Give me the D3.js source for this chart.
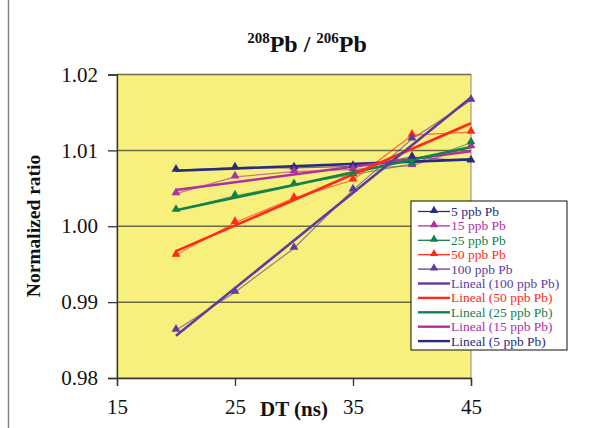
<!DOCTYPE html>
<html>
<head>
<meta charset="utf-8">
<script src="https://cdn.jsdelivr.net/npm/d3@7"></script>
<style>
  body { margin: 0; background: #fff; }
  svg { display: block; }
  svg text { font-family: "Liberation Serif", "Times New Roman", serif; }
</style>
</head>
<body>
<svg id="chart" width="606" height="428"></svg>
<script>
// DT values (ns)
const dtValues = [20, 25, 30, 35, 40, 45]

// normalized 208Pb/206Pb ratio per concentration
const ppb5 = [1.0074, 1.0077, 1.0077, 1.0079, 1.0091, 1.0086]
const ppb15 = [1.0043, 1.0065, 1.0072, 1.0075, 1.0080, 1.0105]
const ppb25 = [1.0021, 1.0040, 1.0055, 1.0068, 1.0082, 1.0110]
const ppb50 = [0.9962, 1.0005, 1.0037, 1.0061, 1.0120, 1.0124]
const ppb100 = [0.9863, 0.9913, 0.9971, 1.0048, 1.0115, 1.0166]

const xTicks = [15, 25, 35, 45]
const yTicks = [0.98, 0.99, 1.00, 1.01, 1.02]

const series = [
  { name: "5 ppb Pb", values: ppb5, color: "#2a2a80" },
  { name: "15 ppb Pb", values: ppb15, color: "#b0309f" },
  { name: "25 ppb Pb", values: ppb25, color: "#16804a" },
  { name: "50 ppb Pb", values: ppb50, color: "#ff2a1a" },
  { name: "100 ppb Pb", values: ppb100, color: "#5e3c9e" }
]

const svg = d3.select("#chart")

const x = d3.scaleLinear().domain([15, 45]).range([117, 471])
const y = d3.scaleLinear().domain([0.98, 1.02]).range([378, 74.5])

// chart area border (left edge visible)
svg.append("line")
  .attr("x1", 8.5).attr("x2", 8.5)
  .attr("y1", 0).attr("y2", 428)
  .attr("stroke", "#808080").attr("stroke-width", 1.5)

// plot area
svg.append("rect")
  .attr("x", x(15)).attr("y", y(1.02))
  .attr("width", x(45) - x(15)).attr("height", y(0.98) - y(1.02))
  .attr("fill", "#f7f07d")
  .attr("stroke", "#8a8a8a").attr("stroke-width", 1)

// gridlines
svg.append("g")
  .selectAll("line")
  .data(yTicks.slice(1))
  .enter()
  .append("line")
  .attr("x1", x(15)).attr("x2", x(45))
  .attr("y1", d => y(d)).attr("y2", d => y(d))
  .attr("stroke", "#6b6b45").attr("stroke-width", 1.5)

// axes
const yAxis = svg.append("g")
  .attr("transform", "translate(" + x(15) + ",0)")
  .call(d3.axisLeft(y).tickValues(yTicks).tickFormat(d3.format(".2f")).tickSize(9).tickPadding(10))
const xAxis = svg.append("g")
  .attr("transform", "translate(0," + y(0.98) + ")")
  .call(d3.axisBottom(x).tickValues(xTicks).tickSize(8).tickPadding(13))

for (const ax of [xAxis, yAxis]) {
  ax.select(".domain").attr("stroke", "#333").attr("stroke-width", 1.3)
  ax.selectAll(".tick line").attr("stroke", "#333").attr("stroke-width", 1.3)
  ax.selectAll("text")
    .attr("fill", "#111")
    .style("font-family", '"Liberation Serif", serif')
    .style("font-size", "21px")
}

// linear trend from least squares
function fit(vals) {
  const mx = d3.mean(dtValues), my = d3.mean(vals)
  const sxy = d3.sum(dtValues, (d, i) => (d - mx) * (vals[i] - my))
  const sxx = d3.sum(dtValues, d => (d - mx) * (d - mx))
  const b = sxy / sxx
  return t => my + b * (t - mx)
}

const line = d3.line()
  .x((d, i) => x(dtValues[i]))
  .y(d => y(d))

// measured series (thin)
svg.append("g")
  .selectAll("path")
  .data(series)
  .enter()
  .append("path")
  .attr("d", d => line(d.values))
  .attr("fill", "none")
  .attr("stroke", d => d.color)
  .attr("stroke-opacity", 0.65)
  .attr("stroke-width", 1.2)

// trend lines (thick)
svg.append("g")
  .selectAll("line")
  .data(series)
  .enter()
  .append("line")
  .each(function(d) {
    const f = fit(d.values)
    d3.select(this)
      .attr("x1", x(dtValues[0])).attr("y1", y(f(dtValues[0])))
      .attr("x2", x(dtValues[dtValues.length - 1])).attr("y2", y(f(dtValues[dtValues.length - 1])))
  })
  .attr("stroke", d => d.color)
  .attr("stroke-width", 2.6)

// markers
const tri = d3.symbol(d3.symbolTriangle, 34)
series.forEach(s => {
  svg.append("g")
    .selectAll("path")
    .data(s.values)
    .enter()
    .append("path")
    .attr("d", tri)
    .attr("transform", (d, i) => "translate(" + x(dtValues[i]) + "," + (y(d) - 1) + ")")
    .attr("fill", s.color)
})

// titles
const title = svg.append("text")
  .attr("x", 307).attr("y", 52)
  .attr("text-anchor", "middle")
  .attr("font-weight", "bold")
  .attr("font-size", "24px")
  .attr("fill", "#111")
title.append("tspan").attr("font-size", "15px").attr("dy", "-9").text("208")
title.append("tspan").attr("dy", "9").text("Pb / ")
title.append("tspan").attr("font-size", "15px").attr("dy", "-9").text("206")
title.append("tspan").attr("dy", "9").text("Pb")

svg.append("text")
  .attr("x", 294).attr("y", 416)
  .attr("text-anchor", "middle")
  .attr("font-weight", "bold")
  .attr("font-size", "21px")
  .attr("fill", "#111")
  .text("DT (ns)")

svg.append("text")
  .attr("transform", "translate(40,226) rotate(-90)")
  .attr("text-anchor", "middle")
  .attr("font-weight", "bold")
  .attr("font-size", "19.5px")
  .attr("fill", "#111")
  .text("Normalized ratio")

// legend
const legendItems = series.map(s => ({ label: s.name, color: s.color, marker: true }))
  .concat(series.slice().reverse().map(s => ({ label: "Lineal (" + s.name + ")", color: s.color, marker: false })))

const legend = svg.append("g").attr("transform", "translate(411,201)")
legend.append("rect")
  .attr("width", 156).attr("height", 149)
  .attr("fill", "#fff").attr("stroke", "#111").attr("stroke-width", 1)

const rows = legend.selectAll("g.item")
  .data(legendItems)
  .enter()
  .append("g")
  .attr("class", "item")
  .attr("transform", (d, i) => "translate(0," + (10.5 + i * 14.4) + ")")

rows.append("line")
  .attr("x1", 7).attr("x2", 39)
  .attr("y1", 0).attr("y2", 0)
  .attr("stroke", d => d.color)
  .attr("stroke-width", d => d.marker ? 1.3 : 2.4)

rows.filter(d => d.marker)
  .append("path")
  .attr("d", d3.symbol(d3.symbolTriangle, 30))
  .attr("transform", "translate(23,-1)")
  .attr("fill", d => d.color)

rows.append("text")
  .attr("x", 40).attr("y", 4.5)
  .style("font-family", '"Liberation Serif", serif')
  .attr("font-size", "13.5px")
  .attr("fill", d => d.color)
  .text(d => d.label)
</script>
</body>
</html>
